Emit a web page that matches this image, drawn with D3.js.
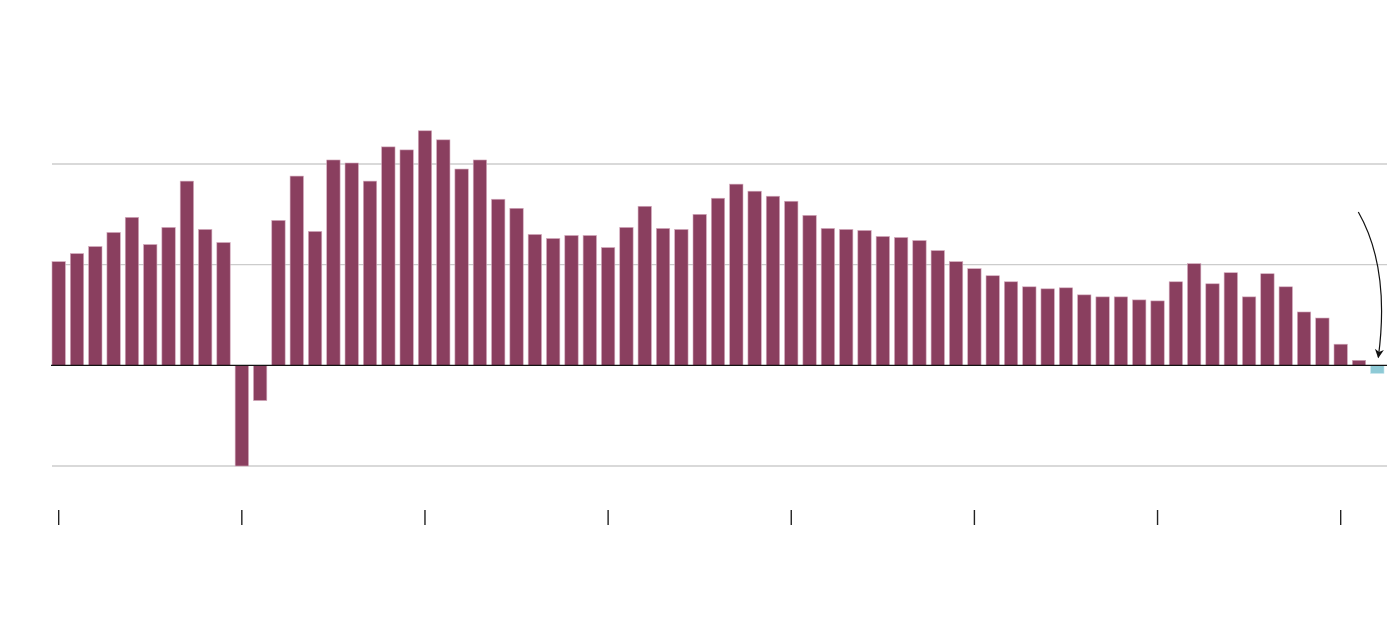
<!DOCTYPE html>
<html>
<head>
<meta charset="utf-8">
<script src="https://cdn.jsdelivr.net/npm/d3@7"></script>
<style>
  html, body { margin: 0; padding: 0; background: #fff; }
  svg { display: block; }
</style>
</head>
<body>
<svg id="chart" width="1400" height="636"></svg>
<script>
// ---- data ----
const values = [
  1.03, 1.11, 1.18, 1.32, 1.47, 1.20, 1.37, 1.83, 1.35, 1.22,
  -1.00, -0.35, 1.44, 1.88, 1.33, 2.04, 2.01, 1.83, 2.17, 2.14,
  2.33, 2.24, 1.95, 2.04, 1.65, 1.56, 1.30, 1.26, 1.29, 1.29,
  1.17, 1.37, 1.58, 1.36, 1.35, 1.50, 1.66, 1.80, 1.73, 1.68,
  1.63, 1.49, 1.36, 1.35, 1.34, 1.28, 1.27, 1.24, 1.14, 1.03,
  0.96, 0.89, 0.83, 0.78, 0.76, 0.77, 0.70, 0.68, 0.68, 0.65,
  0.64, 0.83, 1.01, 0.81, 0.92, 0.68, 0.91, 0.78, 0.53, 0.47,
  0.21, 0.05, -0.08
];
const categories = values.map((_, i) => i);
const xTickCategories = [0, 10, 20, 30, 40, 50, 60, 70];
const gridValues = [-1, 1, 2];
const highlightCategory = 72;

// ---- layout ----
const svg = d3.select("#chart");
const x = d3.scaleBand().domain(categories).range([52, 1384]).paddingInner(0.27).paddingOuter(0);
const y = d3.scaleLinear().domain([-1, 2]).range([466, 164]);

// gridlines
svg.append("g").selectAll("line").data(gridValues).join("line")
  .attr("x1", 52).attr("x2", 1387)
  .attr("y1", d => y(d)).attr("y2", d => y(d))
  .attr("stroke", "#cccccc").attr("stroke-width", 1.3);

// bars
svg.append("g").selectAll("rect").data(values).join("rect")
  .attr("x", (d, i) => x(categories[i]))
  .attr("width", x.bandwidth())
  .attr("y", d => Math.min(y(d), y(0)))
  .attr("height", d => Math.abs(y(d) - y(0)))
  .attr("fill", (d, i) => categories[i] === highlightCategory ? "#8ecad6" : "#8a3f5f")
  .attr("stroke", (d, i) => categories[i] === highlightCategory ? "#c4e3ea" : "#d4aabd")
  .attr("stroke-width", 0.6);

// zero line
svg.append("line")
  .attr("x1", 51).attr("x2", 1387)
  .attr("y1", y(0)).attr("y2", y(0))
  .attr("stroke", "#111").attr("stroke-width", 1.4);

// x ticks
const xAxis = d3.axisBottom(x).tickValues(xTickCategories).tickSize(15).tickFormat("");
const gx = svg.append("g").attr("transform", "translate(0,510)").call(xAxis);
gx.select(".domain").remove();
gx.selectAll(".tick line").attr("stroke", "#222").attr("stroke-width", 1.4);

// annotation arrow pointing at the highlighted bar
const hx = x(highlightCategory) + x.bandwidth() / 2;
const tipY = y(0) - 8;
svg.append("defs").append("marker")
  .attr("id", "arrowhead").attr("viewBox", "0 0 10 10")
  .attr("refX", 9).attr("refY", 5)
  .attr("markerWidth", 10).attr("markerHeight", 9)
  .attr("markerUnits", "userSpaceOnUse")
  .attr("orient", "auto")
  .append("path").attr("d", "M0,0 L10,5 L0,10 L3,5 Z").attr("fill", "#111");

svg.append("path")
  .attr("d", `M${hx - 19},${212} Q${hx + 13},${268} ${hx + 1},${tipY}`)
  .attr("fill", "none").attr("stroke", "#111").attr("stroke-width", 1.2)
  .attr("marker-end", "url(#arrowhead)");
</script>
</body>
</html>
